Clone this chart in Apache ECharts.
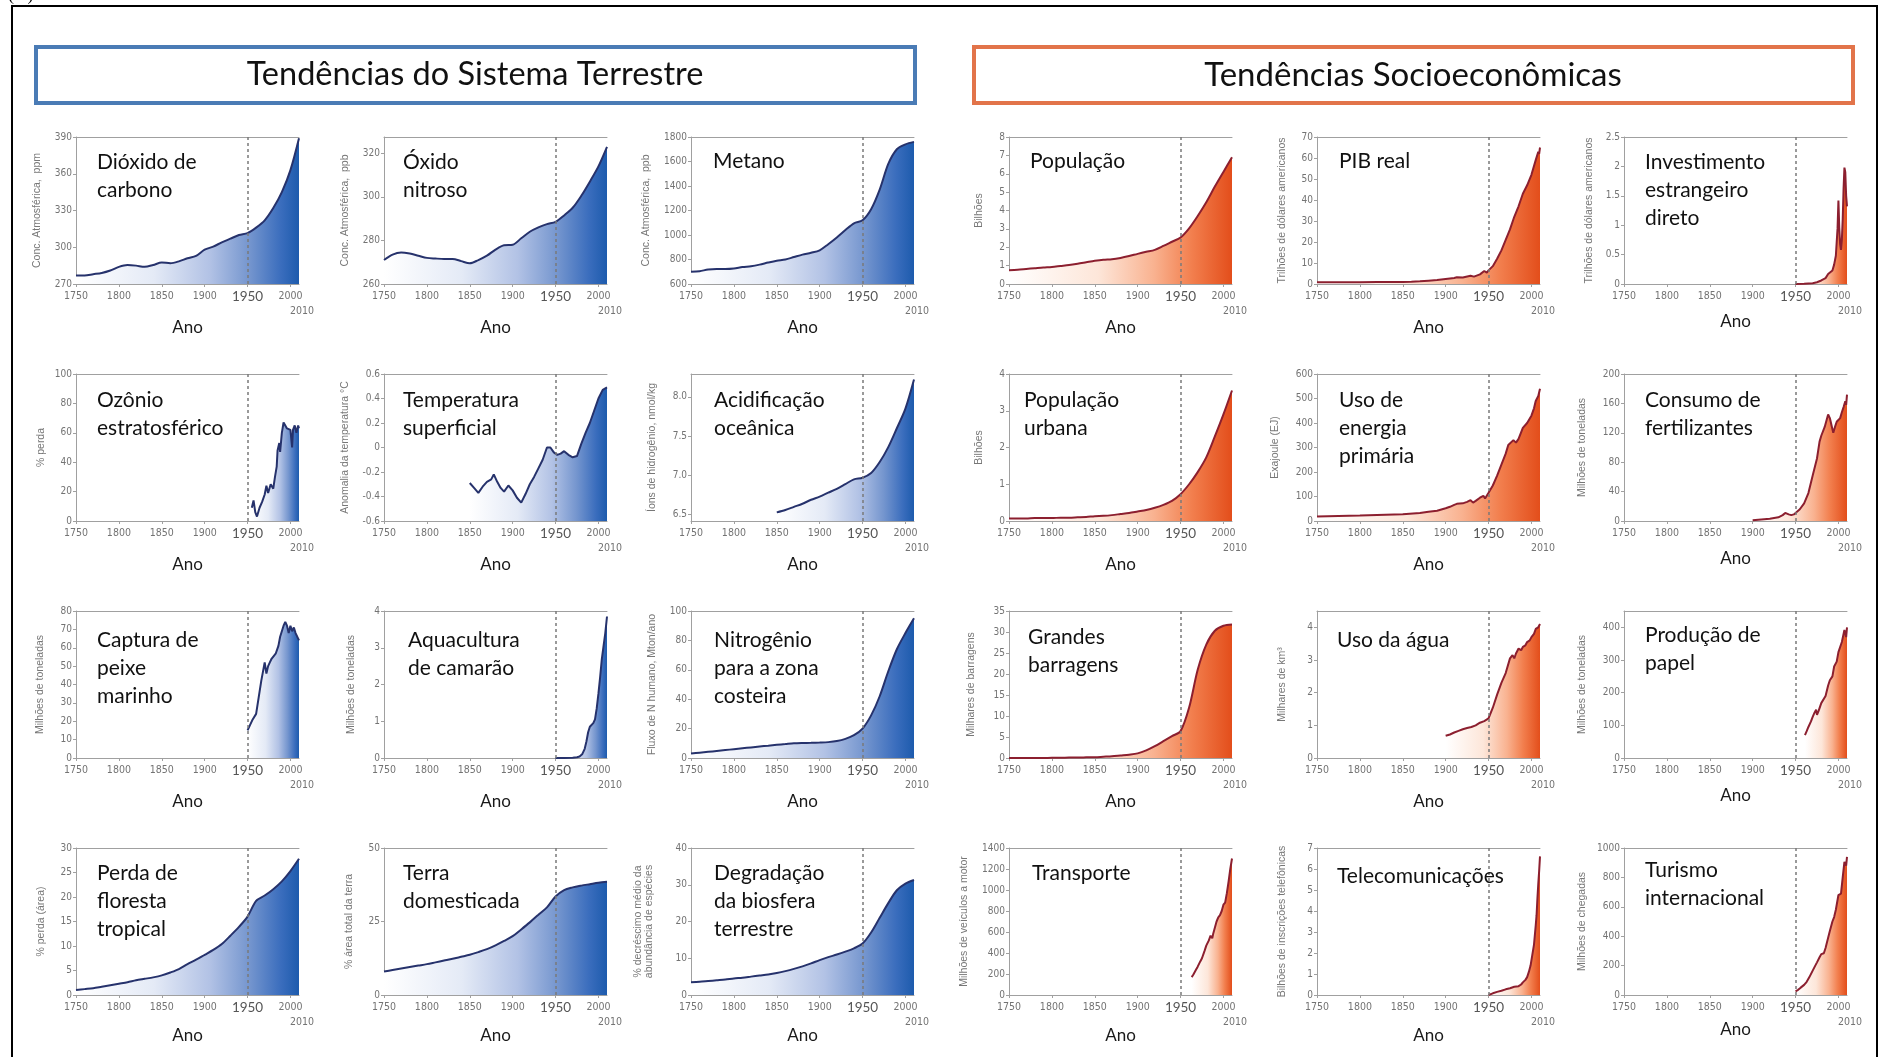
<!DOCTYPE html>
<html><head><meta charset="utf-8">
<script src="https://cdn.jsdelivr.net/npm/echarts@6/dist/echarts.min.js"></script>
<style>html,body{margin:0;padding:0;background:#fff;}#c{width:1883px;height:1057px;}</style>
</head><body><div id="c"></div>
<script>
// ---------------- DATA ----------------
const YEARS_1750 = [1750,1760,1770,1780,1790,1800,1810,1820,1830,1840,1850,1860,1870,1880,1890,1900,1910,1920,1930,1940,1950,1960,1970,1980,1990,2000,2010];
const CO2 = [277,277,278,279,281,284,285.5,285,284,285.5,287.5,287,288.5,291,293,298,300.5,304,307,310,311.5,316,322,332,345,363,389];
const N2O = [271,273.5,274.5,274,273,272,271.7,271.5,271.5,270.5,269.5,271,273,275.8,277.8,278,281,284,286,287.5,288.5,291.5,295,300.5,307,314,323];
const CH4 = [700,705,718,722,722,726,738,745,758,775,790,800,820,840,855,875,925,980,1040,1095,1120,1210,1370,1580,1700,1740,1760];
const POP = [0.75,0.78,0.82,0.86,0.9,0.93,0.98,1.03,1.1,1.18,1.26,1.32,1.35,1.42,1.52,1.64,1.75,1.86,2.07,2.3,2.53,3.03,3.7,4.45,5.3,6.1,6.9];
const GDP_YEARS = [1750,1800,1820,1850,1860,1870,1880,1890,1900,1910,1913,1920,1929,1933,1940,1945,1948,1950,1955,1960,1965,1970,1975,1980,1985,1990,1995,2000,2005,2008,2009,2010];
const GDP = [0.8,0.8,0.9,1.0,1.1,1.3,1.6,1.9,2.4,2.9,3.2,3.1,3.9,3.5,4.6,6.2,5.4,6.5,8.5,12,16,21,26,32,37,43,47,52,59,63,62,65];
const FDI_YEARS = [1950,1960,1970,1975,1980,1985,1988,1990,1993,1995,1997,1999,2000,2001,2002,2003,2004,2005,2006,2007,2008,2009,2010];
const FDI = [0,0.005,0.012,0.03,0.06,0.1,0.17,0.2,0.23,0.33,0.48,0.95,1.42,0.95,0.68,0.58,0.75,1.1,1.62,1.98,1.9,1.5,1.32];

const OZONE_YEARS = [1955,1957,1959,1961,1964,1967,1970,1972,1974,1977,1980,1982,1984,1985,1987,1988,1990,1992,1994,1996,1998,2000,2002,2003,2005,2007,2009,2010];
const OZONE = [9,14,6,3,9,13,18,24,19,25,22,30,37,48,53,47,60,67,65,63,64,62,50,62,65,60,65,63];
const TEMP_YEARS = [1850,1855,1860,1865,1870,1875,1878,1882,1886,1890,1895,1900,1905,1910,1915,1920,1925,1930,1935,1940,1944,1948,1952,1956,1960,1965,1970,1975,1980,1985,1990,1995,2000,2005,2010];
const TEMP = [-0.29,-0.33,-0.37,-0.32,-0.28,-0.26,-0.22,-0.28,-0.33,-0.36,-0.31,-0.35,-0.41,-0.45,-0.38,-0.3,-0.24,-0.17,-0.1,0.0,0.0,-0.04,-0.06,-0.05,-0.03,-0.06,-0.08,-0.07,0.03,0.12,0.2,0.3,0.4,0.47,0.49];
const ACID_YEARS = [1850,1860,1870,1880,1890,1900,1910,1920,1930,1940,1950,1960,1970,1980,1990,2000,2010];
const ACID = [6.53,6.56,6.6,6.64,6.69,6.73,6.78,6.83,6.89,6.95,6.97,7.03,7.17,7.36,7.6,7.85,8.22];
const URBAN = [0.07,0.07,0.07,0.08,0.08,0.08,0.09,0.09,0.1,0.11,0.13,0.14,0.16,0.19,0.22,0.26,0.3,0.36,0.44,0.55,0.73,1.0,1.33,1.73,2.3,2.9,3.55];
const ENERGY_YEARS = [1750,1800,1850,1870,1880,1890,1900,1905,1910,1913,1915,1920,1925,1929,1932,1935,1937,1940,1944,1946,1950,1955,1960,1965,1970,1973,1975,1979,1982,1985,1990,1995,2000,2003,2005,2008,2010];
const ENERGY = [18,22,28,33,38,42,52,58,66,70,68,72,78,85,75,82,90,95,103,92,115,145,185,230,275,310,305,330,320,335,380,400,430,460,490,510,540];
const FERT_YEARS = [1900,1910,1920,1930,1935,1938,1942,1945,1948,1950,1955,1960,1965,1970,1975,1978,1980,1984,1988,1990,1992,1994,1996,1998,2000,2002,2004,2006,2008,2009,2010];
const FERT = [1,2,3,5,8,11,9,8,9,10,16,24,38,62,85,108,116,128,145,140,130,120,128,135,137,140,148,155,163,158,172];

const FISH_YEARS = [1950,1953,1956,1960,1963,1966,1968,1970,1972,1974,1976,1978,1980,1983,1986,1988,1990,1992,1994,1996,1998,2000,2002,2004,2006,2008,2010];
const FISH = [15,18,21,24,33,42,47,52,46,50,52,54,55,57,61,66,69,72,74,72,68,72,69,71,68,67,64];
const SHRIMP_YEARS = [1950,1960,1970,1975,1978,1981,1984,1986,1988,1990,1992,1994,1996,1998,2000,2002,2004,2006,2008,2010];
const SHRIMP = [0,0,0.01,0.02,0.04,0.1,0.25,0.45,0.7,0.85,0.9,0.95,1.05,1.35,1.75,2.2,2.7,3.05,3.4,3.85];
const NITROGEN = [3,3.6,4.2,4.8,5.4,6,6.6,7.2,7.8,8.4,9,9.5,10,10.2,10.3,10.5,10.8,11.5,13,15.5,20,29,42,59,74,85,95];
const DAMS = [0,0,0,0,0,0.05,0.05,0.1,0.1,0.15,0.2,0.3,0.4,0.6,0.8,1.1,1.8,2.8,4,5.2,6.4,12,21,27,30.3,31.5,31.8];
const WATER_YEARS = [1900,1905,1910,1915,1920,1925,1930,1935,1940,1945,1950,1955,1960,1965,1970,1975,1978,1980,1982,1985,1988,1990,1993,1995,1998,2000,2003,2005,2008,2010];
const WATER = [0.68,0.72,0.78,0.83,0.88,0.92,0.95,1.0,1.08,1.13,1.21,1.54,1.94,2.3,2.6,3.05,3.15,3.05,3.2,3.35,3.3,3.4,3.45,3.55,3.6,3.7,3.8,3.95,4.0,4.1];
const PAPER_YEARS = [1961,1963,1965,1968,1970,1972,1974,1975,1977,1980,1982,1985,1988,1990,1993,1995,1998,2000,2002,2004,2006,2007,2009,2010];
const PAPER = [70,82,95,112,126,138,148,132,145,168,168,190,222,238,250,280,295,324,330,355,380,392,370,400];

const FOREST = [1,1.2,1.4,1.7,2.0,2.3,2.6,3.0,3.3,3.6,4.0,4.6,5.3,6.3,7.2,8.2,9.2,10.4,12.1,13.9,16,19.2,20.3,21.6,23.2,25.3,27.8];
const LAND = [8,8.5,9,9.5,10,10.5,11.1,11.7,12.3,13,13.7,14.6,15.6,16.9,18.4,20,22.3,24.7,27.3,29.8,33.5,35.7,36.6,37.2,37.7,38.2,38.5];
const BIOSPHERE = [3.5,3.6,3.8,4.0,4.2,4.5,4.7,5.0,5.3,5.6,6.0,6.5,7.1,7.8,8.6,9.5,10.3,11.0,11.8,12.7,14,17,21,25,28.5,30.3,31.3];
const TRANSPORT_YEARS = [1963,1965,1968,1970,1973,1975,1978,1980,1983,1985,1987,1988,1990,1992,1994,1996,1998,2000,2002,2004,2006,2008,2010];
const TRANSPORT = [170,195,240,270,320,350,420,470,520,565,540,580,640,700,740,760,800,860,880,970,1080,1200,1300];
const TELECOM_YEARS = [1950,1955,1960,1965,1970,1975,1980,1985,1988,1990,1993,1995,1997,1999,2001,2003,2005,2006,2007,2008,2009,2010];
const TELECOM = [0.0,0.08,0.15,0.2,0.27,0.32,0.39,0.42,0.5,0.6,0.72,0.85,1.1,1.4,1.9,2.4,3.3,3.8,4.6,5.3,5.9,6.6];
const TOURISM_YEARS = [1950,1953,1956,1960,1963,1966,1970,1973,1975,1978,1980,1983,1985,1988,1990,1993,1995,1997,2000,2001,2003,2005,2007,2009,2010];
const TOURISM = [25,35,50,69,90,120,166,200,222,257,278,284,320,390,435,500,530,580,680,675,690,800,905,880,940];

// tick labels
const X_TICKS = [1750,1800,1850,1900,1950,2000];
const X_END = [2010];
const T_CO2 = [270,300,330,360,390];
const T_N2O = [260,280,300,320];
const T_CH4 = [600,800,1000,1200,1400,1600,1800];
const T_POP = [0,1,2,3,4,5,6,7,8];
const T_GDP = [0,10,20,30,40,50,60,70];
const T_FDI = [0,0.5,1,1.5,2,2.5];
const T_OZ = [0,20,40,60,80,100];
const T_TEMP = [-0.6,-0.4,-0.2,0,0.2,0.4,0.6];
const T_ACID = [6.5,7.0,7.5,8.0];
const T_URB = [0,1,2,3,4];
const T_EN = [0,100,200,300,400,500,600];
const T_FERT = [0,40,80,120,160,200];
const T_FISH = [0,10,20,30,40,50,60,70,80];
const T_SHR = [0,1,2,3,4];
const T_N = [0,20,40,60,80,100];
const T_DAMS = [0,5,10,15,20,25,30,35];
const T_WATER = [0,1,2,3,4];
const T_PAPER = [0,100,200,300,400];
const T_FOREST = [0,5,10,15,20,25,30];
const T_LAND = [0,25,50];
const T_BIO = [0,10,20,30,40];
const T_TR = [0,200,400,600,800,1000,1200,1400];
const T_TEL = [0,1,2,3,4,5,6,7];
const T_TOUR = [0,200,400,600,800,1000];

const HEADERS = ['Tendências do Sistema Terrestre','Tendências Socioeconômicas'];

// panel list (row-major): title, y-axis name, x years, values, y-range, ticks, group
const PANELS = [
  ['Dióxido de\ncarbono','Conc. Atmosférica,  ppm',YEARS_1750,CO2,270,390,T_CO2,'e'],
  ['Óxido\nnitroso','Conc. Atmosférica,  ppb',YEARS_1750,N2O,260,327.5,T_N2O,'e'],
  ['Metano','Conc. Atmosférica,  ppb',YEARS_1750,CH4,600,1800,T_CH4,'e'],
  ['População','Bilhões',YEARS_1750,POP,0,8,T_POP,'s'],
  ['PIB real','Trilhões de dólares americanos',GDP_YEARS,GDP,0,70,T_GDP,'s'],
  ['Investimento\nestrangeiro\ndireto','Trilhões de dólares americanos',FDI_YEARS,FDI,0,2.5,T_FDI,'s'],
  ['Ozônio\nestratosférico','% perda',OZONE_YEARS,OZONE,0,100,T_OZ,'e'],
  ['Temperatura\nsuperficial','Anomalia da temperatura °C',TEMP_YEARS,TEMP,-0.6,0.6,T_TEMP,'e'],
  ['Acidificação\noceânica','Íons de hidrogênio, nmol/kg',ACID_YEARS,ACID,6.42,8.29,T_ACID,'e'],
  ['População\nurbana','Bilhões',YEARS_1750,URBAN,0,4,T_URB,'s'],
  ['Uso de\nenergia\nprimária','Exajoule (EJ)',ENERGY_YEARS,ENERGY,0,600,T_EN,'s'],
  ['Consumo de\nfertilizantes','Milhões de toneladas',FERT_YEARS,FERT,0,200,T_FERT,'s'],
  ['Captura de\npeixe\nmarinho','Milhões de toneladas',FISH_YEARS,FISH,0,80,T_FISH,'e'],
  ['Aquacultura\nde camarão','Milhões de toneladas',SHRIMP_YEARS,SHRIMP,0,4,T_SHR,'e'],
  ['Nitrogênio\npara a zona\ncosteira','Fluxo de N humano, Mton/ano',YEARS_1750,NITROGEN,0,100,T_N,'e'],
  ['Grandes\nbarragens','Milhares de barragens',YEARS_1750,DAMS,0,35,T_DAMS,'s'],
  ['Uso da água','Milhares de km³',WATER_YEARS,WATER,0,4.5,T_WATER,'s'],
  ['Produção de\npapel','Milhões de toneladas',PAPER_YEARS,PAPER,0,450,T_PAPER,'s'],
  ['Perda de\nfloresta\ntropical','% perda (área)',YEARS_1750,FOREST,0,30,T_FOREST,'e'],
  ['Terra\ndomesticada','% área total da terra',YEARS_1750,LAND,0,50,T_LAND,'e'],
  ['Degradação\nda biosfera\nterrestre','% decréscimo médio da\nabundância de espécies',YEARS_1750,BIOSPHERE,0,40,T_BIO,'e'],
  ['Transporte','Milhões de veículos a motor',TRANSPORT_YEARS,TRANSPORT,0,1400,T_TR,'s'],
  ['Telecomunicações','Bilhões de inscrições telefônicas',TELECOM_YEARS,TELECOM,0,7,T_TEL,'s'],
  ['Turismo\ninternacional','Milhões de chegadas',TOURISM_YEARS,TOURISM,0,1000,T_TOUR,'s']
];

// ---------------- LAYOUT / STYLE ----------------
const COL_X = [76,384,691,1009,1317,1624];
const ROW_Y = [137,374,611,848];
const PW = 223, PH = 147;
const TITLE_POS = [
  [97,162],[403,162],[713,161],[1030,161],[1339,161],[1645,162],
  [97,400],[403,400],[714,400],[1024,400],[1339,400],[1645,400],
  [97,640],[408,640],[714,640],[1028,637],[1337,640],[1645,635],
  [97,873],[403,873],[714,873],[1032,873],[1337,876],[1645,870]
];
const YNAME_GAP = [33,33,39,24,29,29, 29,33,33,24,36,36, 30,27,33,32,29,36, 29,29,36,39,29,36];
const NARROW = "'Liberation Sans Narrow','DejaVu Sans Condensed','Liberation Sans',sans-serif";
const STY = {
  e: {line:'#26326c', stops:[[0,'#ffffff'],[0.35,'#e4eaf6'],[0.6,'#b2c2e5'],[0.78,'#7495ce'],[0.92,'#3a6dbd'],[1,'#1d5bad']]},
  s: {line:'#8c1f2f', stops:[[0,'#ffffff'],[0.4,'#fde6d9'],[0.65,'#f9b290'],[0.82,'#f27f4e'],[1,'#e34e1b']]}
};
const AX = '#a0a0a0', LAB = '#737373';

const grids=[], xAxes=[], yAxes=[], series=[], graphics=[];
PANELS.forEach((p,i)=>{
  const [title,yName,years,vals,ymin,ymax,ticks,g] = p;
  const r = Math.floor(i/6), c = i%6;
  grids.push({left:COL_X[c], top:ROW_Y[r], width:PW, height:PH});
  const anoGap = (c===5?29:35) - (r===3?3:0);
  // main bottom axis
  xAxes.push({
    gridIndex:i, type:'value', min:1750, max:2010,
    axisLine:{show:true, onZero:false, lineStyle:{color:AX, width:1}},
    axisTick:{show:true, length:3, lineStyle:{color:AX}, customValues:X_TICKS},
    splitLine:{show:false},
    axisLabel:{customValues:X_TICKS, showMinLabel:true, showMaxLabel:true, hideOverlap:false,
      margin:6, color:LAB, fontSize:10.5, fontFamily:NARROW, lineHeight:13,
      formatter:v=> v===1950 ? '{b|1950}' : String(v),
      rich:{b:{fontSize:13.5, color:'#555', fontFamily:'Lato', lineHeight:13}}},
    name:'Ano', nameLocation:'middle', nameGap:anoGap,
    nameTextStyle:{color:'#1a1a1a', fontSize:17, fontFamily:'Lato'}
  });
  // top border
  xAxes.push({gridIndex:i, type:'value', position:'top', min:1750, max:2010,
    axisLine:{show:true, onZero:false, lineStyle:{color:AX, width:1}}, axisTick:{show:false}, axisLabel:{show:false}, splitLine:{show:false}});
  // end-year label row
  xAxes.push({gridIndex:i, type:'value', position:'bottom', offset:16, min:1750, max:2010,
    axisLine:{show:false, onZero:false}, axisTick:{show:false}, splitLine:{show:false},
    axisLabel:{customValues:X_END, showMinLabel:true, showMaxLabel:true, margin:6, color:LAB, fontSize:10.5, fontFamily:NARROW,
      formatter:v=>'{c|'+v+'}', rich:{c:{fontSize:10.5, color:LAB, fontFamily:NARROW, padding:[0,0,0,6]}}}});
  const dec = (ticks===T_ACID) ? 1 : -1;
  yAxes.push({
    gridIndex:i, type:'value', min:ymin, max:ymax,
    axisLine:{show:true, onZero:false, lineStyle:{color:AX, width:1}},
    axisTick:{show:true, length:3, inside:false, lineStyle:{color:AX}, customValues:ticks},
    splitLine:{show:false},
    axisLabel:{customValues:ticks, showMinLabel:true, showMaxLabel:true, margin:4, color:LAB, fontSize:10, fontFamily:NARROW,
      formatter:v=> dec>0 ? v.toFixed(dec) : String(v)},
    name:yName, nameLocation:'middle', nameRotate:90, nameGap:YNAME_GAP[i],
    nameTextStyle:{color:'#777', fontSize:10.5, fontFamily:"'Liberation Sans',sans-serif", lineHeight:11}
  });
  const st = STY[g];
  series.push({
    type:'line', xAxisIndex:i*3, yAxisIndex:i,
    data: years.map((y,k)=>[y, vals[k]]),
    showSymbol:false, symbol:'none', smooth:(years===YEARS_1750||years===ACID_YEARS)?0.3:false,
    lineStyle:{color:st.line, width:2},
    areaStyle:{origin:'start', opacity:1, color:{type:'linear', x:0, y:0, x2:1, y2:0,
      colorStops: st.stops.map(s=>({offset:s[0], color:s[1]}))}},
    markLine:{silent:true, symbol:'none', animation:false, label:{show:false},
      lineStyle:{type:[3,3], color:'#7a7a7a', width:1.5}, data:[{xAxis:1950}]},
    z:2
  });
  graphics.push({type:'text', x:TITLE_POS[i][0], y:TITLE_POS[i][1]-14, z:10,
    style:{text:title, fontSize:21, fontFamily:'Lato', fill:'#111', lineHeight:28, verticalAlign:'top', align:'left'}});
});

// frame and header boxes
graphics.unshift(
  {type:'rect', shape:{x:12,y:6,width:1865,height:1100}, style:{fill:'none', stroke:'#000', lineWidth:2}, z:0},
  {type:'text', x:8, y:-14, style:{text:'(...)', fontSize:18, fontFamily:'Liberation Serif', fill:'#000'}},
  {type:'rect', shape:{x:36,y:47,width:879,height:56}, style:{fill:'#fff', stroke:'#4a7bb5', lineWidth:4}, z:1},
  {type:'text', x:475, y:75, z:2, style:{text:HEADERS[0], fontSize:32.5, fontFamily:'Lato', fill:'#111', align:'center', verticalAlign:'middle'}},
  {type:'rect', shape:{x:974,y:47,width:879,height:56}, style:{fill:'#fff', stroke:'#e2744a', lineWidth:4}, z:1},
  {type:'text', x:1413, y:75, z:2, style:{text:HEADERS[1], fontSize:33, fontFamily:'Lato', fill:'#111', align:'center', verticalAlign:'middle'}}
);

const chart = echarts.init(document.getElementById('c'), null, {renderer:'canvas', width:1883, height:1057});
chart.setOption({
  animation:false, backgroundColor:'#fff',
  grid:grids, xAxis:xAxes, yAxis:yAxes, series:series, graphic:graphics
});
</script></body></html>
